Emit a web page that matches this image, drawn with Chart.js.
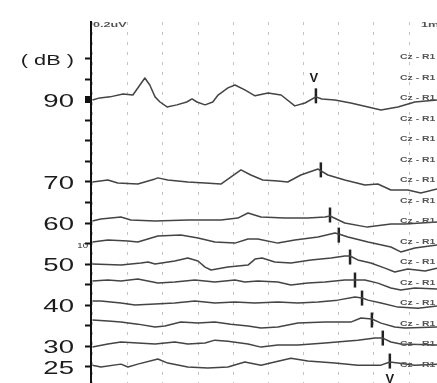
<!DOCTYPE html>
<html>
<head>
<meta charset="utf-8">
<script src="https://cdn.jsdelivr.net/npm/chart.js@4.4.0/dist/chart.umd.min.js"></script>
<style>
  html, body { margin: 0; padding: 0; background: #fff; }
  #abr { display: block; }
</style>
</head>
<body>
<canvas id="abr" width="437" height="383"></canvas>
<script>
'use strict';
// channel rows counted from the top (0) to the bottom (15)
var rowSlots = [2, 6, 8, 9, 10, 11, 12, 13, 14, 15];
var tickSlots = [0, 2, 6, 8, 9, 10, 12, 14, 15];
var tickTexts = ['( dB )', '90', '70', '60', '10', '50', '40', '30', '25'];
var channelLabel = 'Cz - R1';
var gridMs = [0, 1, 2, 3, 4, 5, 6, 7, 8, 9];

// wave V latency (ms) and its height on each trace (row units)
var vLatency = [6.35, 6.49, 6.75, 7.00, 7.32, 7.46, 7.66, 7.94, 8.25, 8.45];
var vAmp = [0.20, 0.59, 0.39, 0.41, 0.34, 0.22, 0.34, 0.27, 0.39, 0.27];

// [time ms, amplitude in row units]
var trace90 = [[0,0],[0.21,0.10],[0.50,0.15],[0.87,0.29],[1.15,0.24],[1.35,0.73],[1.49,1.07],[1.63,0.73],[1.78,0.15],[1.92,-0.10],[2.12,-0.34],[2.40,-0.24],[2.68,-0.10],[2.83,0.05],[2.97,-0.10],[3.20,-0.24],[3.42,-0.10],[3.57,0.24],[3.85,0.59],[4.05,0.73],[4.33,0.49],[4.62,0.20],[4.99,0.34],[5.36,0.24],[5.75,-0.29],[6.04,-0.15],[6.35,0.15],[6.52,0.05],[6.89,0],[7.34,-0.15],[7.83,-0.34],[8.20,-0.49],[8.68,-0.34],[9.16,-0.10],[9.79,0]];
var trace70 = [[0,0],[0.44,0.10],[0.72,-0.05],[1.29,-0.10],[1.78,0.15],[1.86,0.20],[2.14,0.10],[2.71,0],[3.20,-0.05],[3.65,-0.10],[3.93,0.24],[4.22,0.59],[4.50,0.34],[4.84,0.10],[5.27,0.05],[5.55,0],[5.92,0.34],[6.41,0.63],[6.69,0.34],[7.17,0.10],[7.74,-0.15],[8.11,-0.10],[8.48,-0.39],[8.96,-0.39],[9.33,-0.54],[9.79,-0.34]];
var trace60 = [[0,0.10],[0.24,0.20],[0.81,0.29],[1.09,0.15],[1.78,0.10],[2.71,0.15],[3.65,0.15],[4.13,0.24],[4.42,0.49],[4.79,0.29],[5.47,0.24],[6.12,0.24],[6.61,0.29],[6.75,0.34],[7.17,0],[7.81,-0.20],[8.48,-0.05],[8.88,-0.05],[9.79,0.05]];
var traceRow9 = [[0,0.07],[0.44,0.17],[1.01,0.12],[1.29,0.07],[1.86,0.37],[2.51,0.41],[3.00,0.27],[3.48,0.07],[4.05,0.02],[4.42,0.22],[4.70,0.22],[5.27,0.02],[5.75,0.17],[6.41,0.32],[6.89,0.51],[7.00,0.46],[7.26,0.32],[7.83,0.07],[8.48,-0.17],[8.76,-0.41],[9.16,-0.22],[9.79,-0.07]];
var trace50 = [[0,0],[0.81,-0.05],[1.38,0.05],[1.58,0.10],[1.78,0],[2.34,0.15],[2.71,0.29],[3.00,0.15],[3.20,-0.15],[3.37,-0.29],[3.85,-0.15],[4.42,-0.05],[4.62,0.24],[4.82,0.29],[5.18,0.10],[5.64,0.05],[6.21,0.20],[6.78,0.29],[7.17,0.39],[7.32,0.39],[7.54,0.20],[7.91,0.05],[8.31,-0.20],[8.59,-0.39],[8.96,-0.24],[9.45,-0.34],[9.79,-0.20]];
var traceRow11 = [[0,0.17],[0.44,0.22],[0.81,0.17],[1.29,0.27],[1.86,0.07],[2.34,0.12],[2.91,0.22],[3.48,0.12],[4.05,0.22],[4.33,0.12],[4.70,0.17],[5.27,0.12],[5.64,-0.02],[6.12,0.07],[6.61,0.12],[7.17,0.22],[7.46,0.22],[7.74,0.22],[8.11,0.07],[8.48,-0.17],[8.76,-0.27],[9.16,-0.17],[9.79,-0.22]];
var trace40 = [[0,0.20],[0.24,0.20],[0.81,0.10],[1.21,0],[1.78,0.05],[2.34,0.10],[2.91,0.20],[3.48,0.10],[4.05,0.15],[4.62,0.10],[5.27,0.15],[5.84,0.10],[6.41,0.15],[6.97,0.24],[7.46,0.39],[7.66,0.34],[7.83,0.24],[8.20,0.10],[8.68,-0.10],[9.25,-0.15],[9.79,-0.05]];
var traceRow13 = [[0,0.27],[0.44,0.22],[0.81,0.17],[1.29,0.07],[1.78,-0.07],[2.06,-0.02],[2.51,0.17],[3.00,0.12],[3.48,0.17],[3.93,0.07],[4.42,-0.02],[4.79,-0.12],[5.27,-0.07],[5.84,0.12],[6.61,0.17],[7.34,0.17],[7.63,0.37],[7.94,0.32],[8.20,0.12],[8.59,-0.07],[8.88,-0.12],[9.79,-0.07]];
var trace30 = [[0,-0.05],[0.44,0.10],[0.81,0.20],[1.29,0.15],[1.78,0.10],[2.34,0.20],[2.71,0.10],[3.20,0.15],[3.48,0.29],[3.85,0.24],[4.42,0.10],[4.79,-0.05],[5.27,0.05],[5.84,0.05],[6.61,0.15],[7.54,0.29],[8.03,0.39],[8.25,0.39],[8.48,0.20],[8.76,0.10],[9.79,0.05]];
var trace25 = [[0,0.07],[0.24,-0.02],[0.81,0.12],[1.01,-0.02],[1.29,0.12],[1.86,0.37],[2.14,0.17],[2.71,-0.02],[3.28,-0.07],[3.85,-0.02],[4.33,0.22],[4.79,0.07],[5.18,0.22],[5.64,0.41],[6.12,0.27],[6.89,0.17],[7.54,0.07],[8.20,0.07],[8.45,0.22],[8.68,0.17],[9.16,0.07],[9.79,0.12]];

var traces = [trace90, trace70, trace60, traceRow9, trace50, traceRow11, trace40, traceRow13, trace30, trace25];

function rowValue(slot) {
    return 15 - slot;
}

var datasets = traces.map(function(trace, i) {
    return {
        data: trace.map(function(p) { return { x: p[0], y: rowValue(rowSlots[i]) + p[1] }; }),
        borderColor: '#444',
        borderWidth: 1.5,
        pointRadius: 0,
        tension: 0,
        borderJoinStyle: 'round'
    };
});

datasets.push({
    data: vLatency.map(function(t, i) { return { x: t, y: rowValue(rowSlots[i]) + vAmp[i] }; }),
    showLine: false,
    pointStyle: 'line',
    rotation: 90,
    pointRadius: 7.5,
    pointBorderWidth: 2.5,
    borderColor: '#222',
    pointBorderColor: '#222'
});

var textPlugin = {
    id: 'abrText',
    afterDraw: function(chart) {
        var ctx = chart.ctx;
        var x = chart.scales.x;
        var y = chart.scales.y;
        var area = chart.chartArea;
        ctx.save();
        ctx.fillStyle = '#1c1c1c';
        ctx.textBaseline = 'middle';
        ctx.textAlign = 'right';
        // level labels on the left
        tickSlots.forEach(function(slot, i) {
            var text = tickTexts[i];
            var small = text === '10';
            ctx.save();
            ctx.translate(small ? y.right - 3 : y.right - 17, y.getPixelForValue(rowValue(slot)) + 2);
            ctx.scale(small ? 1.2 : 1.45, 1);
            ctx.font = (small ? '8px' : (slot === 0 ? '15px' : '19px')) + ' "Liberation Sans", Arial, sans-serif';
            ctx.fillText(text, 0, 0);
            ctx.restore();
        });
        // channel names on the right
        ctx.textAlign = 'left';
        ctx.fillStyle = '#555';
        for (var s = 0; s <= 15; s++) {
            ctx.save();
            ctx.translate(x.getPixelForValue(8.74), y.getPixelForValue(rowValue(s)) - 2);
            ctx.scale(1.3, 1);
            ctx.font = 'bold 8px "Liberation Sans", Arial, sans-serif';
            ctx.fillText(channelLabel, 0, 0);
            ctx.restore();
        }
        // scale notes at the top
        ctx.save();
        ctx.translate(area.left + 2, area.top + 3);
        ctx.scale(1.8, 1);
        ctx.font = 'bold 7px "Liberation Sans", Arial, sans-serif';
        ctx.fillText('0.2uV', 0, 0);
        ctx.restore();
        ctx.save();
        ctx.translate(area.right - 16, area.top + 3);
        ctx.scale(1.8, 1);
        ctx.font = 'bold 7px "Liberation Sans", Arial, sans-serif';
        ctx.fillText('1ms', 0, 0);
        ctx.restore();
        // wave V names
        ctx.fillStyle = '#1c1c1c';
        ctx.textAlign = 'center';
        ctx.font = 'bold 13px "Liberation Sans", Arial, sans-serif';
        var first = 0, last = vLatency.length - 1;
        ctx.fillText('V', x.getPixelForValue(vLatency[first]) - 2, y.getPixelForValue(rowValue(rowSlots[first]) + vAmp[first]) - 17);
        ctx.fillText('V', x.getPixelForValue(vLatency[last]), y.getPixelForValue(rowValue(rowSlots[last]) + vAmp[last]) + 18);
        ctx.restore();
    }
};

var abrChart = new Chart(document.getElementById('abr'), {
    type: 'line',
    data: { datasets: datasets },
    options: {
        responsive: false,
        animation: false,
        devicePixelRatio: 1,
        layout: { autoPadding: false, padding: { top: 22, left: 0, right: 0, bottom: 0 } },
        plugins: { legend: { display: false }, tooltip: { enabled: false } },
        scales: {
            x: {
                type: 'linear',
                min: -0.04,
                max: 9.79,
                afterBuildTicks: function(scale) {
                    scale.ticks = gridMs.map(function(v) { return { value: v }; });
                },
                afterFit: function(scale) { scale.height = 0; },
                ticks: { display: false },
                grid: { color: '#c4c4c4', lineWidth: 1, drawTicks: false },
                border: { display: false, dash: [3, 7] }
            },
            y: {
                type: 'linear',
                min: -0.8,
                max: 16.8,
                afterBuildTicks: function(scale) {
                    var list = [];
                    for (var s = 0; s <= 15; s++) list.push({ value: rowValue(s) });
                    scale.ticks = list;
                },
                afterFit: function(scale) { scale.width = 91; },
                ticks: { display: false },
                grid: {
                    drawOnChartArea: false,
                    drawTicks: true,
                    tickLength: 6,
                    tickColor: '#111',
                    tickWidth: function(c) { return c.tick && c.tick.value === rowValue(2) ? 7 : 2; }
                },
                border: { display: true, color: '#111', width: 2 }
            }
        }
    },
    plugins: [textPlugin]
});
</script>
</body>
</html>
